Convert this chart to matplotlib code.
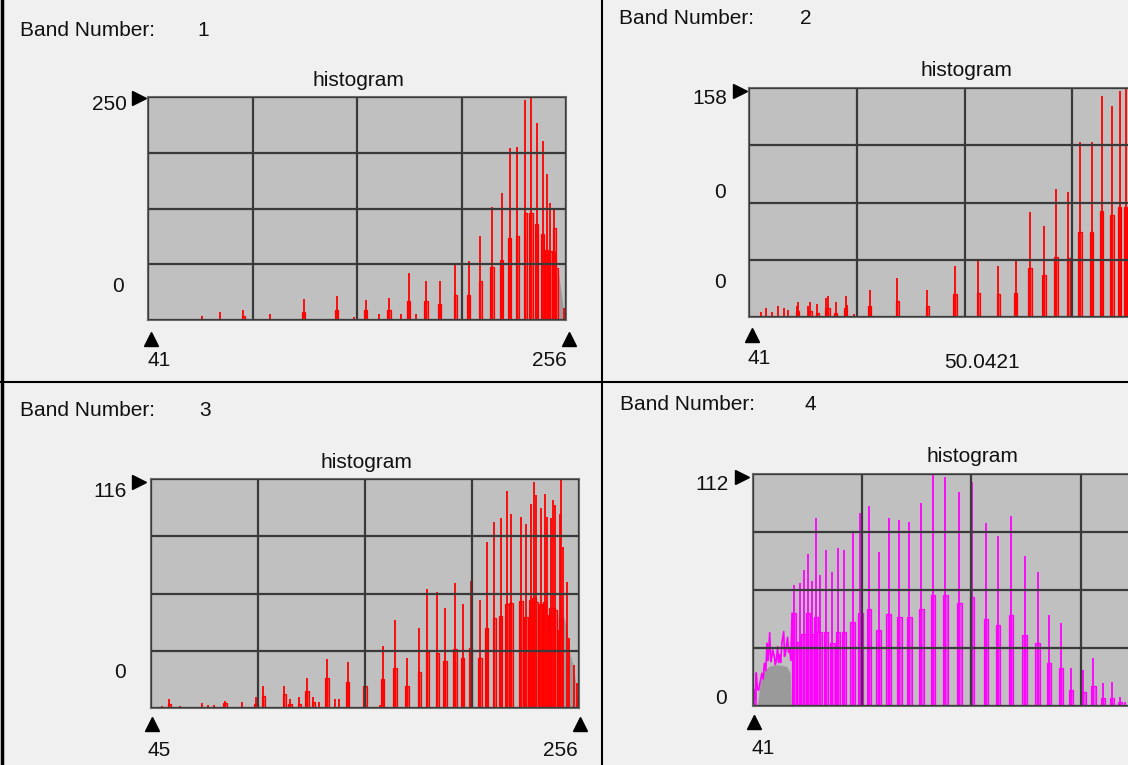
import numpy as np
import matplotlib
matplotlib.use('Agg')
import matplotlib.pyplot as plt
from matplotlib.lines import Line2D

plt.rcParams['font.family'] = ['Liberation Sans Narrow', 'Liberation Sans', 'DejaVu Sans']

W, H = 1128, 765

# ---------------- data ----------------
band_numbers = ['1', '2', '3', '4']
x_ranges = [(41, 256), (41, 256), (45, 256), (41, 256)]
y_max = [250, 158, 116, 112]
y_top_labels = ['250', '158', '116', '112']

# Band 1
p1_bins = [69, 78, 90, 104, 121, 138, 147, 153, 160, 165, 171, 175, 179, 184, 191, 199, 206, 212,
           218, 223, 227, 231, 235, 238, 241, 244, 246, 248, 250, 251, 255]
p1_peak = [5, 9, 11, 7, 24, 27, 3, 22, 7, 25, 7, 53, 7, 44, 44, 64, 66, 94,
           127, 142, 193, 194, 247, 250, 221, 201, 164, 131, 123, 76, 13]
p1_side = [0, 0, 4, 0, 9, 11, 0, 11, 0, 11, 0, 21, 0, 21, 18, 28, 28, 44,
           59, 67, 92, 94, 120, 120, 108, 96, 78, 77, 103, 58, 0]
p1_fill_x = [248.7, 248.8, 252.0, 253.3, 254.6, 255.5]
p1_fill_y = [0, 58, 56, 34, 13, 0]

# Band 2
p2_bins = [46.8, 49.6, 52.6, 55.5, 58.5, 60.6, 65.1, 65.6, 70.6, 71.3, 75.1, 79.6, 80.4, 84.2,
           89.2, 90.0, 93.4, 101.2, 115.0, 130.0, 143.7, 155.4, 165.4, 174.0, 181.1, 188.1,
           194.1, 200.3, 206.1, 211.9, 216.9, 222.2, 225.9, 228.9]
p2_peak = [3.2, 6.2, 3.2, 7.6, 6.2, 4.6, 7.9, 10.2, 7.9, 10.2, 8.9, 13.1, 14.2, 10.2,
           14.5, 8.4, 2.0, 18.4, 26.9, 18.4, 34.9, 38.8, 34.9, 38.8, 72.2, 62.5,
           88.5, 86.0, 120.5, 120.5, 152.3, 145.4, 156.2, 158.5]
p2_side = [0, 0, 0, 0, 0, 0, 4, 0, 0, 4, 3, 6, 6, 3,
           6, 0, 0, 7.8, 11.2, 7.3, 15.9, 16.6, 15.9, 16.6, 33.8, 29.2,
           41.4, 40.7, 58.4, 58.4, 73.4, 70.6, 75.6, 75.6]
p2_fill_x = []
p2_fill_y = []

# Band 3
p3_bins = [50.3, 54.0, 59.3, 70.0, 73.3, 76.0, 81.5, 89.7, 96.8, 100.4, 110.7, 113.5, 118.1,
           121.8, 125.0, 128.0, 131.8, 135.7, 137.9, 142.0, 150.5, 157.9, 159.2, 165.3, 171.1,
           177.3, 181.3, 186.2, 190.0, 194.9, 198.7, 202.6, 207.2, 210.5, 214.3, 217.4, 220.4,
           222.5, 227.4, 229.9, 232.2, 233.9, 234.8, 237.1, 239.0, 240.1, 242.1, 243.1, 244.4,
           246.4, 247.0, 248.3, 250.0, 251.3, 253.3, 254.9]
p3_peak = [1.0, 4.4, 1.2, 2.4, 1.4, 1.4, 3.5, 3.2, 5.4, 11.3, 11.3, 4.4, 5.4,
           15.4, 5.7, 3.2, 24.7, 4.4, 4.4, 23.5, 23.5, 1.5, 31.6, 44.6, 25.5,
           40.7, 60.2, 59.0, 50.9, 63.2, 52.9, 64.3, 54.7, 84.3, 94.4, 96.4, 109.9,
           98.1, 96.9, 93.0, 103.1, 114.6, 107.9, 101.5, 108.2, 96.9, 96.1, 105.4, 102.8,
           98.1, 116.0, 81.7, 64.0, 35.3, 21.7, 12.5]
p3_side = [0, 2.0, 0, 0, 0, 0, 2.5, 0, 2.0, 6.1, 7.1, 2.0, 2.0,
           8.4, 3.0, 0, 15.0, 0, 0, 13.3, 11.3, 0, 14.7, 20.4, 11.3,
           18.4, 28.2, 27.7, 23.8, 29.7, 25.1, 30.5, 25.5, 40.7, 45.7, 46.6, 52.5,
           53.0, 54.2, 46.3, 54.7, 55.9, 53.9, 52.5, 53.9, 47.2, 50.5, 50.5, 49.7,
           39.5, 45.6, 0, 0, 0, 0, 0]
p3_fill_x = [245.5, 245.6, 246.5, 248.3, 250.0, 251.6, 253.3, 254.9, 255.8]
p3_fill_y = [0, 48, 50, 47, 40, 27, 21, 8, 0]

# Band 4 (spikes)
p4_bins = [61.3, 63.9, 65.9, 68.0, 70.0, 72.0, 73.8, 77.0, 80.0,
           82.8, 85.9, 90.0, 93.8, 98.0, 102.8, 107.7, 113.0, 117.9, 123.8, 129.5, 135.6,
           142.5, 148.7, 155.7, 161.5, 167.9, 174.6, 181.0, 186.7, 192.6, 197.5, 203.6,
           208.5, 213.1, 217.5, 221.6, 224.1]
p4_peak = [58.4, 59.5, 65.7, 73.4, 60.5, 90.9, 63.3, 75.3, 64.5,
           76.1, 75.3, 83.9, 93.0, 96.7, 74.5, 90.9, 89.8, 89.0, 97.9, 111.5, 110.4,
           103.5, 108.3, 88.2, 82.1, 91.9, 72.4, 64.5, 43.9, 39.9, 18.2, 17.4,
           23.0, 11.2, 11.7, 4.5, 2.1]
p4_side = [44.7, 31.0, 34.9, 44.7, 35.0, 43.1, 35.9, 35.9, 30.3,
           35.9, 35.9, 40.7, 44.7, 46.7, 36.7, 44.4, 43.1, 43.1, 46.7, 53.6, 53.6,
           49.6, 52.8, 41.8, 39.1, 43.9, 34.3, 30.6, 20.6, 18.2, 7.7, 6.9,
           9.7, 3.7, 3.7, 2.1, 0]
# Band 4 (jagged low-value trace at the left)
p4_trace_x = [41.3, 42.0, 42.6, 43.2, 43.8, 44.6, 45.4, 46.0, 46.6, 47.3, 47.9, 48.3, 48.7,
              49.2, 49.8, 50.3, 50.8, 51.5, 52.0, 52.5, 53.1, 53.6, 54.1, 54.6, 55.2, 56.1,
              56.5, 56.9, 58.0, 58.5, 59.0, 59.6, 60.2]
p4_trace_y = [7.7, 3.0, 16.1, 8.0, 7.7, 12.0, 15.8, 13.0, 20.6, 17.0, 30.3, 22.0, 25.5,
              35.4, 21.4, 24.0, 27.0, 23.8, 20.0, 22.2, 28.6, 21.0, 24.6, 21.0, 30.3, 35.9,
              24.0, 25.0, 33.2, 26.0, 28.0, 22.0, 44.7]
p4_fill_x = [43.0, 44.6, 46.2, 48.7, 51.1, 54.4, 57.7, 59.3, 59.8]
p4_fill_y = [0, 11, 16.6, 19, 19.8, 19.8, 19, 15.8, 0]

# ---------------- figure ----------------
fig = plt.figure(figsize=(W / 100, H / 100), dpi=100, facecolor='#f0f0f0')


def fx(x):
    return x / W


def fy(y):
    return 1 - y / H


def make_ax(box, xlim, ymax):
    l, t, r, b = box
    ax = fig.add_axes([l / W, 1 - b / H, (r - l) / W, (b - t) / H])
    ax.set_facecolor('#c0c0c0')
    ax.set_xlim(*xlim)
    ax.set_ylim(0, ymax)
    ax.set_xticks(np.linspace(xlim[0], xlim[1], 5))
    ax.set_yticks(np.linspace(0, ymax, 5))
    ax.tick_params(length=0, labelbottom=False, labelleft=False)
    ax.grid(True, color='#3a3a3a', lw=1.6)
    ax.set_axisbelow(False)
    for s in ax.spines.values():
        s.set_color('#6a6a6a')
        s.set_linewidth(1.5)
    return ax


def draw_hist(ax, bins, peaks, sides, fill_x, fill_y, line_c, face_c, width):
    if len(fill_x):
        ax.fill_between(fill_x, fill_y, color='#9a9a9a', lw=0, zorder=1)
    nz = [i for i, v in enumerate(sides) if v > 0]
    ax.bar([bins[i] for i in nz], [sides[i] for i in nz], width=width, color=face_c,
           edgecolor=line_c, lw=0.9, zorder=1.5)
    ax.vlines(bins, 0, peaks, color=line_c, lw=1.3, zorder=2)


boxes = [(148, 97, 566, 320), (749, 88, 1180, 317), (151, 479, 579, 708), (753, 474, 1190, 706)]
data = [(p1_bins, p1_peak, p1_side, p1_fill_x, p1_fill_y),
        (p2_bins, p2_peak, p2_side, p2_fill_x, p2_fill_y),
        (p3_bins, p3_peak, p3_side, p3_fill_x, p3_fill_y),
        (p4_bins, p4_peak, p4_side, p4_fill_x, p4_fill_y)]
colors = [('#ff0000', '#e25858'), ('#ff0000', '#e25858'), ('#ff0000', '#e25858'), ('#ff00ff', '#e050e0')]
widths = [1.7, 1.8, 1.7, 2.2]

axes = []
for i in range(4):
    ax = make_ax(boxes[i], x_ranges[i], y_max[i])
    b, p, s, fxs, fys = data[i]
    draw_hist(ax, b, p, s, fxs, fys, *colors[i], widths[i])
    axes.append(ax)

axes[3].plot(p4_trace_x, p4_trace_y, color='#ff00ff', lw=1.2, zorder=2)
axes[3].vlines([p4_trace_x[0], p4_trace_x[2]], 0, [p4_trace_y[0], p4_trace_y[2]],
               color='#ff00ff', lw=1.2, zorder=2)

fs = 15


def txt(x, y, s, ha='left'):
    fig.text(fx(x), fy(y), s, ha=ha, va='center', fontsize=fs, color='#111111')


def mark(x, y, m):
    fig.add_artist(Line2D([fx(x)], [fy(y)], marker=m, ms=10, color='black', lw=0,
                          transform=fig.transFigure))


# Panel 1
txt(20, 30, 'Band Number:'); txt(203, 30, band_numbers[0], 'center')
txt(358, 80, 'histogram', 'center')
txt(127, 105, y_top_labels[0], 'right'); mark(139, 98, '>')
txt(118, 287, '0', 'center')
mark(151, 339, '^'); mark(569, 339, '^')
txt(147, 360, str(x_ranges[0][0])); txt(567, 360, str(x_ranges[0][1]), 'right')

# Panel 2
txt(619, 19, 'Band Number:'); txt(806, 19, band_numbers[1], 'center')
txt(966, 71, 'histogram', 'center')
txt(727, 98, y_top_labels[1], 'right'); mark(740, 91, '>')
txt(720, 192, '0', 'center'); txt(720, 282, '0', 'center')
mark(752, 335, '^')
txt(748, 358, str(x_ranges[1][0])); txt(982, 362, '50.0421', 'center')

# Panel 3
txt(20, 411, 'Band Number:'); txt(205, 411, band_numbers[2], 'center')
txt(366, 463, 'histogram', 'center')
txt(127, 491, y_top_labels[2], 'right'); mark(139, 482, '>')
txt(120, 673, '0', 'center')
mark(152, 724, '^'); mark(580, 724, '^')
txt(148, 750, str(x_ranges[2][0])); txt(578, 750, str(x_ranges[2][1]), 'right')

# Panel 4
txt(620, 404, 'Band Number:'); txt(810, 404, band_numbers[3], 'center')
txt(972, 457, 'histogram', 'center')
txt(729, 484, y_top_labels[3], 'right'); mark(742, 477, '>')
txt(721, 698, '0', 'center')
mark(754, 722, '^')
txt(752, 748, str(x_ranges[3][0]))

# separators
fig.add_artist(Line2D([fx(2), fx(2)], [0, 1], color='black', lw=2.5, transform=fig.transFigure))
fig.add_artist(Line2D([fx(602), fx(602)], [0, 1], color='black', lw=1.5, transform=fig.transFigure))
fig.add_artist(Line2D([0, 1], [fy(382), fy(382)], color='black', lw=1.5, transform=fig.transFigure))

fig.savefig('out.png', dpi=100, facecolor=fig.get_facecolor())
